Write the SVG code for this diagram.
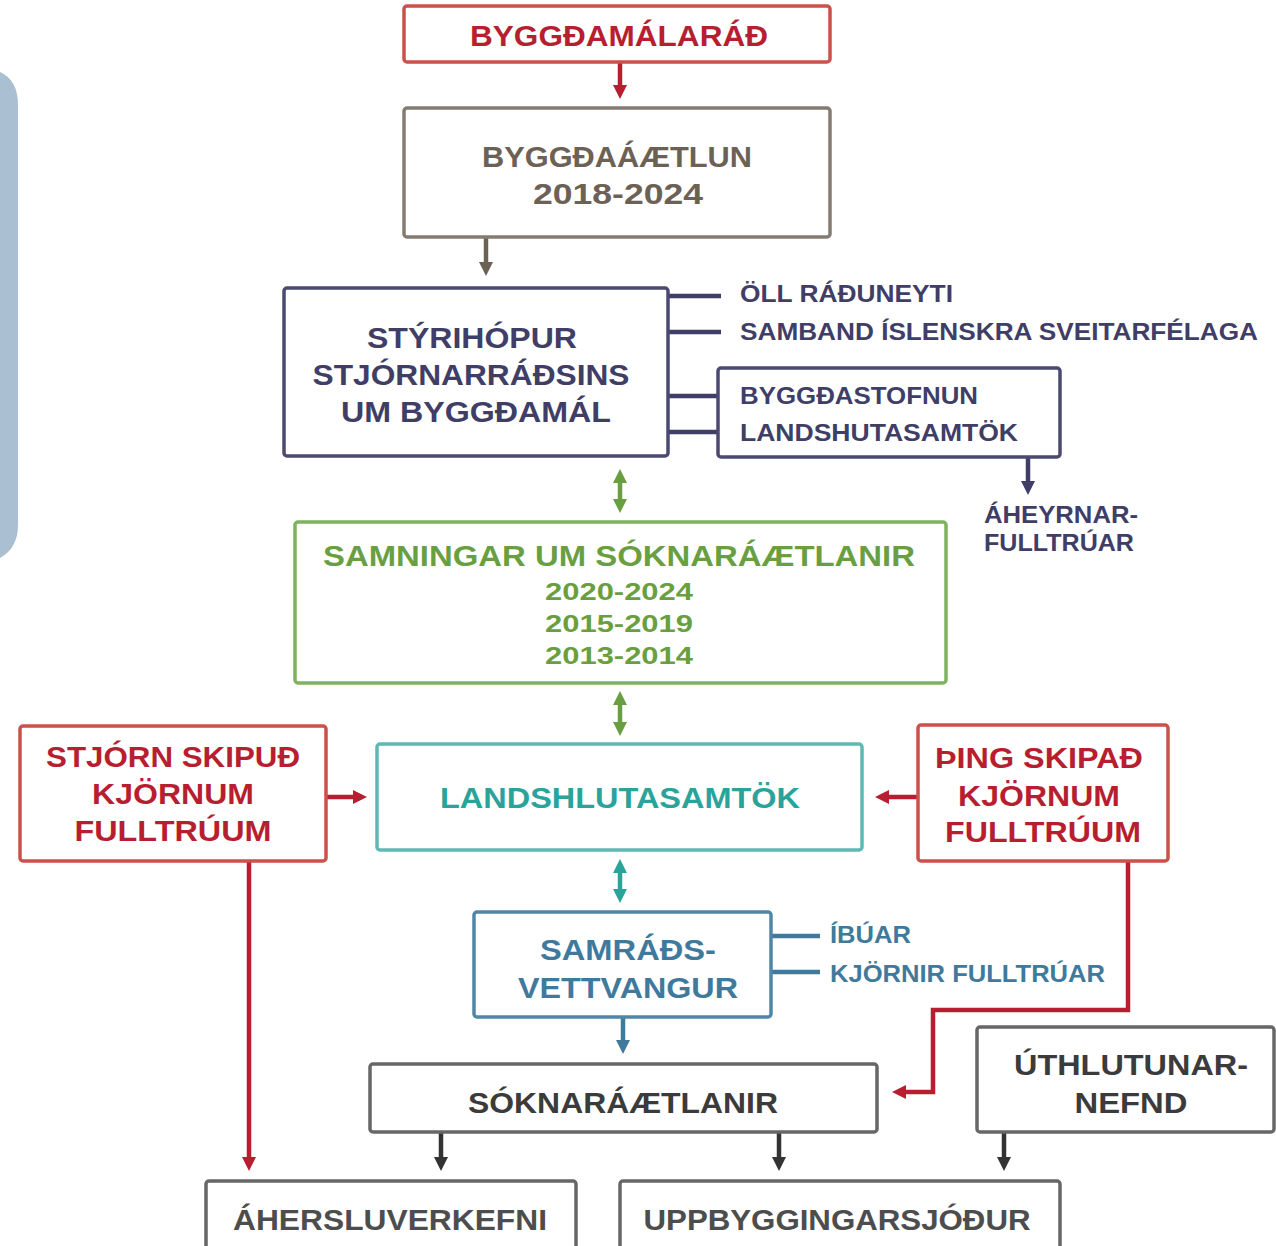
<svg xmlns="http://www.w3.org/2000/svg" width="1276" height="1246" viewBox="0 0 1276 1246">
<defs>
<style>
text{font-family:"Liberation Sans",Arial,sans-serif;font-weight:bold;text-anchor:middle;}
.l{text-anchor:start;}
.box{fill:#fff;stroke-width:3.5;}
.big{font-size:29px;}
.sm{font-size:24px;}
.red{stroke:#c9524b;} .redt{fill:#b71f30;}
.brn{stroke:#857c71;} .brnt{fill:#6c6155;}
.pur{stroke:#4b4971;} .purt{fill:#403e66;}
.grn{stroke:#7db35d;} .grnt{fill:#6a9f41;}
.tea{stroke:#5fb8b3;} .teat{fill:#2aa39a;}
.stl{stroke:#5086a7;} .stlt{fill:#3f7a9d;}
.gry{stroke:#676767;} .gryt{fill:#3b3b3b;}
.c{fill:none;stroke-width:4.5;}
</style>
<marker id="aR" viewBox="0 0 10 10" refX="5" refY="5" markerWidth="14" markerHeight="14" markerUnits="userSpaceOnUse" orient="auto-start-reverse"><path d="M0,0 L10,5 L0,10 Z" fill="#b71f30"/></marker>
<marker id="aB" viewBox="0 0 10 10" refX="5" refY="5" markerWidth="14" markerHeight="14" markerUnits="userSpaceOnUse" orient="auto-start-reverse"><path d="M0,0 L10,5 L0,10 Z" fill="#6c6155"/></marker>
<marker id="aP" viewBox="0 0 10 10" refX="5" refY="5" markerWidth="14" markerHeight="14" markerUnits="userSpaceOnUse" orient="auto-start-reverse"><path d="M0,0 L10,5 L0,10 Z" fill="#403e66"/></marker>
<marker id="aG" viewBox="0 0 10 10" refX="5" refY="5" markerWidth="14" markerHeight="14" markerUnits="userSpaceOnUse" orient="auto-start-reverse"><path d="M0,0 L10,5 L0,10 Z" fill="#6a9f41"/></marker>
<marker id="aT" viewBox="0 0 10 10" refX="5" refY="5" markerWidth="14" markerHeight="14" markerUnits="userSpaceOnUse" orient="auto-start-reverse"><path d="M0,0 L10,5 L0,10 Z" fill="#2aa39a"/></marker>
<marker id="aS" viewBox="0 0 10 10" refX="5" refY="5" markerWidth="14" markerHeight="14" markerUnits="userSpaceOnUse" orient="auto-start-reverse"><path d="M0,0 L10,5 L0,10 Z" fill="#3f7a9d"/></marker>
<marker id="aK" viewBox="0 0 10 10" refX="5" refY="5" markerWidth="14" markerHeight="14" markerUnits="userSpaceOnUse" orient="auto-start-reverse"><path d="M0,0 L10,5 L0,10 Z" fill="#333"/></marker>
</defs>
<rect width="1276" height="1246" fill="#fff"/>
<path id="sidebar" d="M0,72 Q18,80 18,105 V525 Q18,548 0,558 Z" fill="#aac0d2"/>

<g id="connectors">
<path class="c" stroke="#b71f30" d="M620,62 V92" marker-end="url(#aR)"/>
<path class="c" stroke="#6c6155" d="M486,237 V269" marker-end="url(#aB)"/>
<path class="c" stroke="#403e66" d="M668,296 H721 M668,332 H721 M668,396 H718 M668,432 H718"/>
<path class="c" stroke="#403e66" d="M1028,457 V488" marker-end="url(#aP)"/>
<path class="c" stroke="#6a9f41" d="M620,476 V506" marker-start="url(#aG)" marker-end="url(#aG)"/>
<path class="c" stroke="#6a9f41" d="M620,698 V729" marker-start="url(#aG)" marker-end="url(#aG)"/>
<path class="c" stroke="#b71f30" stroke-width="6" d="M326,797 H360" marker-end="url(#aR)"/>
<path class="c" stroke="#b71f30" stroke-width="6" d="M918,797 H882" marker-end="url(#aR)"/>
<path class="c" stroke="#b71f30" d="M249,861 V1164" marker-end="url(#aR)"/>
<path class="c" stroke="#b71f30" d="M1128,861 V1010 H933 V1092 H899" marker-end="url(#aR)"/>
<path class="c" stroke="#2aa39a" d="M620,866 V896" marker-start="url(#aT)" marker-end="url(#aT)"/>
<path class="c" stroke="#3f7a9d" d="M771,936 H820 M771,972 H820"/>
<path class="c" stroke="#3f7a9d" d="M623,1017 V1047" marker-end="url(#aS)"/>
<path class="c" stroke="#333" d="M441,1132 V1164" marker-end="url(#aK)"/>
<path class="c" stroke="#333" d="M779,1132 V1164" marker-end="url(#aK)"/>
<path class="c" stroke="#333" d="M1004,1132 V1164" marker-end="url(#aK)"/>
</g>

<g id="byggdamalarad">
<rect class="box red" x="404" y="6" width="426" height="56" rx="3"/>
<text class="big redt" x="619" y="46" textLength="298" lengthAdjust="spacingAndGlyphs">BYGGÐAMÁLARÁÐ</text>
</g>
<g id="byggdaaaetlun">
<rect class="box brn" x="404" y="108" width="426" height="129" rx="3"/>
<text class="big brnt" x="617" y="167" textLength="270" lengthAdjust="spacingAndGlyphs">BYGGÐAÁÆTLUN</text>
<text class="big brnt" x="618" y="204" textLength="170" lengthAdjust="spacingAndGlyphs">2018-2024</text>
</g>
<g id="styrihopur">
<rect class="box pur" x="284" y="288" width="384" height="168" rx="3"/>
<text class="big purt" x="472" y="348" textLength="210" lengthAdjust="spacingAndGlyphs">STÝRIHÓPUR</text>
<text class="big purt" x="471" y="385" textLength="317" lengthAdjust="spacingAndGlyphs">STJÓRNARRÁÐSINS</text>
<text class="big purt" x="476" y="422" textLength="270" lengthAdjust="spacingAndGlyphs">UM BYGGÐAMÁL</text>
</g>
<g id="oll-raduneyti">
<text class="sm purt l" x="740" y="302" textLength="213" lengthAdjust="spacingAndGlyphs">ÖLL RÁÐUNEYTI</text>
</g>
<g id="samband">
<text class="sm purt l" x="740" y="340" textLength="518" lengthAdjust="spacingAndGlyphs">SAMBAND ÍSLENSKRA SVEITARFÉLAGA</text>
</g>
<g id="byggdastofnun">
<rect class="box pur" x="718" y="368" width="342" height="89" rx="3"/>
<text class="sm purt l" x="740" y="404" textLength="238" lengthAdjust="spacingAndGlyphs">BYGGÐASTOFNUN</text>
<text class="sm purt l" x="740" y="441" textLength="278" lengthAdjust="spacingAndGlyphs">LANDSHUTASAMTÖK</text>
</g>
<g id="aheyrnarfulltruar">
<text class="sm purt l" x="984" y="523" textLength="154" lengthAdjust="spacingAndGlyphs">ÁHEYRNAR-</text>
<text class="sm purt l" x="984" y="551" textLength="150" lengthAdjust="spacingAndGlyphs">FULLTRÚAR</text>
</g>
<g id="samningar">
<rect class="box grn" x="295" y="522" width="651" height="161" rx="3"/>
<text class="big grnt" x="619" y="566" textLength="592" lengthAdjust="spacingAndGlyphs">SAMNINGAR UM SÓKNARÁÆTLANIR</text>
<text class="sm grnt" x="619" y="600" font-size="26" textLength="148" lengthAdjust="spacingAndGlyphs">2020-2024</text>
<text class="sm grnt" x="619" y="632" font-size="26" textLength="148" lengthAdjust="spacingAndGlyphs">2015-2019</text>
<text class="sm grnt" x="619" y="664" font-size="26" textLength="148" lengthAdjust="spacingAndGlyphs">2013-2014</text>
</g>
<g id="landshlutasamtok">
<rect class="box tea" x="377" y="744" width="485" height="106" rx="3"/>
<text class="big teat" x="620" y="808" textLength="360" lengthAdjust="spacingAndGlyphs">LANDSHLUTASAMTÖK</text>
</g>
<g id="stjorn">
<rect class="box red" x="20" y="726" width="306" height="135" rx="3"/>
<text class="big redt" x="173" y="767" textLength="254" lengthAdjust="spacingAndGlyphs">STJÓRN SKIPUÐ</text>
<text class="big redt" x="173" y="804" textLength="162" lengthAdjust="spacingAndGlyphs">KJÖRNUM</text>
<text class="big redt" x="173" y="841" textLength="197" lengthAdjust="spacingAndGlyphs">FULLTRÚUM</text>
</g>
<g id="thing">
<rect class="box red" x="918" y="725" width="250" height="136" rx="3"/>
<text class="big redt" x="1039" y="768" textLength="208" lengthAdjust="spacingAndGlyphs">ÞING SKIPAÐ</text>
<text class="big redt" x="1039" y="806" textLength="162" lengthAdjust="spacingAndGlyphs">KJÖRNUM</text>
<text class="big redt" x="1043" y="842" textLength="196" lengthAdjust="spacingAndGlyphs">FULLTRÚUM</text>
</g>
<g id="samradsvettvangur">
<rect class="box stl" x="474" y="912" width="297" height="105" rx="3"/>
<text class="big stlt" x="628" y="960" textLength="176" lengthAdjust="spacingAndGlyphs">SAMRÁÐS-</text>
<text class="big stlt" x="628" y="998" textLength="220" lengthAdjust="spacingAndGlyphs">VETTVANGUR</text>
</g>
<g id="ibuar">
<text class="sm stlt l" x="830" y="943" textLength="81" lengthAdjust="spacingAndGlyphs">ÍBÚAR</text>
</g>
<g id="kjornir">
<text class="sm stlt l" x="830" y="982" textLength="275" lengthAdjust="spacingAndGlyphs">KJÖRNIR FULLTRÚAR</text>
</g>
<g id="soknaraaetlanir">
<rect class="box gry" x="370" y="1064" width="507" height="68" rx="3"/>
<text class="big gryt" x="623" y="1113" textLength="310" lengthAdjust="spacingAndGlyphs">SÓKNARÁÆTLANIR</text>
</g>
<g id="uthlutunarnefnd">
<rect class="box gry" x="977" y="1027" width="297" height="105" rx="3"/>
<text class="big gryt" x="1131" y="1075" textLength="234" lengthAdjust="spacingAndGlyphs">ÚTHLUTUNAR-</text>
<text class="big gryt" x="1131" y="1113" textLength="113" lengthAdjust="spacingAndGlyphs">NEFND</text>
</g>
<g id="aherslu">
<rect class="box gry" x="206" y="1181" width="370" height="80" rx="3"/>
<text class="big" fill="#4d4d4d" font-size="32" x="390" y="1230" textLength="314" lengthAdjust="spacingAndGlyphs">ÁHERSLUVERKEFNI</text>
</g>
<g id="uppbyggingarsjodur">
<rect class="box gry" x="620" y="1181" width="440" height="80" rx="3"/>
<text class="big" fill="#4d4d4d" font-size="32" x="837" y="1230" textLength="387" lengthAdjust="spacingAndGlyphs">UPPBYGGINGARSJÓÐUR</text>
</g>
</svg>
